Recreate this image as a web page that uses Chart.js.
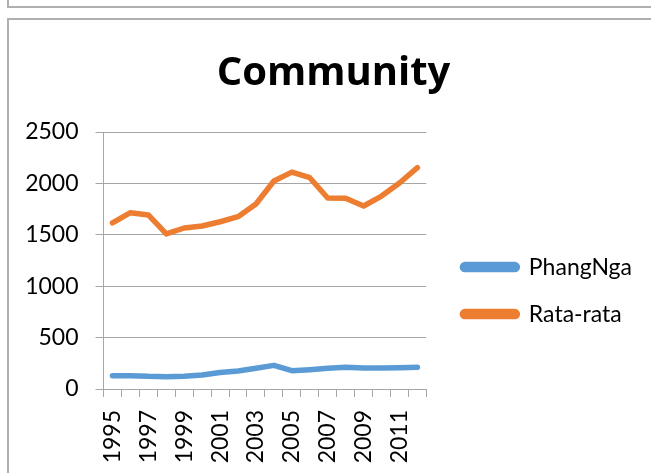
<!DOCTYPE html>
<html>
<head>
<meta charset="utf-8">
<script src="https://cdn.jsdelivr.net/npm/chart.js@4"></script>
<style>
  body { margin: 0; background: #fff; overflow: hidden; }
  #topbox { position: absolute; left: 7px; top: -30px; width: 700px; height: 34px; border: 2px solid #b0b0b0; }
  #box { position: absolute; left: 7px; top: 18px; width: 700px; height: 500px; border: 2px solid #b0b0b0; }
  #wrap { position: absolute; left: 0; top: 0; width: 651px; height: 473px; }
</style>
</head>
<body>
<div id="topbox"></div>
<div id="box"></div>
<div id="wrap"><canvas id="myChart" width="651" height="473"></canvas></div>
<script>
const years = ["1995", "1996", "1997", "1998", "1999", "2000", "2001", "2002", "2003",
  "2004", "2005", "2006", "2007", "2008", "2009", "2010", "2011", "2012"]
const phangNga = [130, 130, 123, 120, 124, 136, 160, 175, 201, 230, 178, 188, 201, 211, 204, 204, 207, 211]
const rataRata = [1615, 1715, 1693, 1508, 1566, 1586, 1627, 1676, 1800, 2023, 2110, 2055, 1858, 1855, 1780, 1877, 2004, 2153]
const yTicks = [0, 500, 1000, 1500, 2000, 2500]

const FONT = "Lato"
const gridColor = "#a6a6a6"

const config = {
  type: "line",
  data: {
    labels: years,
    datasets: [
      {
        label: "PhangNga",
        data: phangNga,
        borderColor: "#5b9bd5",
        backgroundColor: "#5b9bd5",
        borderWidth: 5.5,
        pointRadius: 0,
        borderCapStyle: "round",
        borderJoinStyle: "round",
        tension: 0,
      },
      {
        label: "Rata-rata",
        data: rataRata,
        borderColor: "#ed7d31",
        backgroundColor: "#ed7d31",
        borderWidth: 5.5,
        pointRadius: 0,
        borderCapStyle: "round",
        borderJoinStyle: "round",
        tension: 0,
      },
    ],
  },
  options: {
    responsive: false,
    animation: false,
    layout: { padding: { left: 25, right: 9, top: 20, bottom: 3 } },
    plugins: {
      title: {
        display: true,
        text: "Community",
        color: "#000",
        font: { family: "Open Sans", size: 40, weight: "bold" },
        padding: { top: 30, bottom: 34 },
      },
      legend: {
        position: "right",
        maxWidth: 300,
        title: { display: true, text: " ", font: { size: 1 }, padding: { top: 90, bottom: 0 } },
        labels: {
          color: "#000",
          font: { family: FONT, size: 23 },
          boxWidth: 55,
          boxHeight: 5,
          padding: 24,
          useBorderRadius: true,
          borderRadius: 2.5,
        },
      },
      tooltip: { enabled: false },
    },
    scales: {
      x: {
        offset: true,
        afterFit: scale => {
          scale.height = 81
        },
        grid: { offset: true, drawOnChartArea: false, drawTicks: true, tickLength: 8, color: gridColor },
        border: { color: gridColor },
        ticks: {
          autoSkip: false,
          maxRotation: 90,
          minRotation: 90,
          padding: 13,
          color: "#000",
          font: { family: FONT, size: 23 },
          callback: function (v, i) {
            return i % 2 === 0 ? years[i] : ""
          },
        },
      },
      y: {
        min: 0,
        max: 2500,
        afterBuildTicks: scale => {
          scale.ticks = yTicks.map(v => ({ value: v }))
        },
        afterFit: scale => {
          scale.width = 78.5
        },
        grid: { color: gridColor, tickLength: 8 },
        border: { color: gridColor },
        ticks: {
          padding: 17,
          color: "#000",
          font: { family: FONT, size: 23 },
          callback: v => String(v),
        },
      },
      gap: {
        position: "right",
        display: true,
        grid: { display: false },
        border: { display: false },
        ticks: { display: false },
        afterFit: scale => {
          scale.width = 12
        },
      },
    },
  },
}

new Chart(document.getElementById("myChart"), config)
</script>
</body>
</html>
